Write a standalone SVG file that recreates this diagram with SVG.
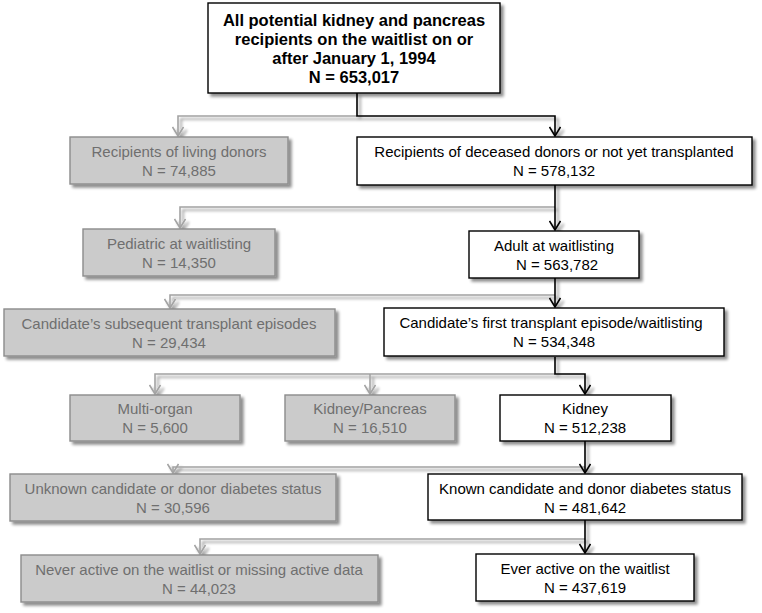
<svg xmlns="http://www.w3.org/2000/svg" width="762" height="613" viewBox="0 0 762 613">
<style>
text{font-family:"Liberation Sans",Arial,sans-serif;font-size:15px;text-anchor:middle}
.b rect{fill:#fff;stroke:#000;stroke-width:1.4}
.b text{fill:#000}
.g rect{fill:#cbcbcb;stroke:#8c8c8c;stroke-width:1.4}
.g text{fill:#6f6f6f}
.t text{font-weight:bold;font-size:16.5px}
.ck{fill:none;stroke:#000;stroke-width:1.6}
.cg{fill:none;stroke:#a3a3a3;stroke-width:1.6}
</style>
<defs>
<filter id="sh" x="-10%" y="-10%" width="130%" height="140%">
<feGaussianBlur in="SourceAlpha" stdDeviation="1.5"/>
<feOffset dx="3" dy="3" result="o"/>
<feComponentTransfer><feFuncA type="linear" slope="0.45"/></feComponentTransfer>
<feMerge><feMergeNode/><feMergeNode in="SourceGraphic"/></feMerge>
</filter>
<marker id="ak" markerWidth="12" markerHeight="12" refX="10" refY="6" orient="auto" markerUnits="userSpaceOnUse">
<path d="M1,0.5 L10,6 L1,11.5" fill="none" stroke="#000" stroke-width="1.6"/>
</marker>
<marker id="ag" markerWidth="12" markerHeight="12" refX="10" refY="6" orient="auto" markerUnits="userSpaceOnUse">
<path d="M1,0.5 L10,6 L1,11.5" fill="none" stroke="#a3a3a3" stroke-width="1.6"/>
</marker>
</defs>

<g id="connectors" filter="url(#sh)">
<path class="cg" d="M357,116 H178 V136" marker-end="url(#ag)"/>
<path class="ck" d="M357,93 V116 H555 V136" marker-end="url(#ak)"/>
<path class="cg" d="M555,207 H180 V228" marker-end="url(#ag)"/>
<path class="ck" d="M555,185 V230" marker-end="url(#ak)"/>
<path class="cg" d="M555,295 H170 V308" marker-end="url(#ag)"/>
<path class="ck" d="M555,278 V307" marker-end="url(#ak)"/>
<path class="cg" d="M555,374 H155 V394" marker-end="url(#ag)"/>
<path class="cg" d="M370,374 V394" marker-end="url(#ag)"/>
<path class="ck" d="M555,357 V374 H585 V394" marker-end="url(#ak)"/>
<path class="cg" d="M585,467 H173 V473" marker-end="url(#ag)"/>
<path class="ck" d="M585,441 V473" marker-end="url(#ak)"/>
<path class="cg" d="M585,539 H200 V554" marker-end="url(#ag)"/>
<path class="ck" d="M585,520 V553" marker-end="url(#ak)"/>
</g>

<g id="n0" class="b t">
<rect x="208" y="3" width="292" height="90" filter="url(#sh)"/>
<text x="354" y="26">All potential kidney and pancreas</text>
<text x="354" y="45">recipients on the waitlist on or</text>
<text x="354" y="64">after January 1, 1994</text>
<text x="354" y="83">N = 653,017</text>
</g>

<g id="n1" class="g">
<rect x="70" y="137" width="218" height="47" filter="url(#sh)"/>
<text x="179" y="157">Recipients of living donors</text>
<text x="179" y="176">N = 74,885</text>
</g>
<g id="n2" class="b">
<rect x="357" y="137" width="395" height="48" filter="url(#sh)"/>
<text x="554" y="157">Recipients of deceased donors or not yet transplanted</text>
<text x="554" y="176">N = 578,132</text>
</g>

<g id="n3" class="g">
<rect x="83" y="229" width="192" height="47" filter="url(#sh)"/>
<text x="179" y="249">Pediatric at waitlisting</text>
<text x="179" y="268">N = 14,350</text>
</g>
<g id="n4" class="b">
<rect x="469" y="231" width="170" height="47" filter="url(#sh)"/>
<text x="554" y="251">Adult at waitlisting</text>
<text x="557" y="270">N = 563,782</text>
</g>

<g id="n5" class="g">
<rect x="4" y="309" width="331" height="47" filter="url(#sh)"/>
<text x="169" y="329">Candidate’s subsequent transplant episodes</text>
<text x="169" y="348">N = 29,434</text>
</g>
<g id="n6" class="b">
<rect x="384" y="308" width="340" height="48" filter="url(#sh)"/>
<text x="551" y="328">Candidate’s first transplant episode/waitlisting</text>
<text x="554" y="347">N = 534,348</text>
</g>

<g id="n7" class="g">
<rect x="70" y="395" width="170" height="46" filter="url(#sh)"/>
<text x="155" y="414">Multi-organ</text>
<text x="155" y="433">N = 5,600</text>
</g>
<g id="n8" class="g">
<rect x="285" y="395" width="170" height="46" filter="url(#sh)"/>
<text x="370" y="414">Kidney/Pancreas</text>
<text x="370" y="433">N = 16,510</text>
</g>
<g id="n9" class="b">
<rect x="500" y="395" width="171" height="46" filter="url(#sh)"/>
<text x="585" y="414">Kidney</text>
<text x="585" y="433">N = 512,238</text>
</g>

<g id="n10" class="g">
<rect x="10" y="474" width="326" height="47" filter="url(#sh)"/>
<text x="173" y="494">Unknown candidate or donor diabetes status</text>
<text x="173" y="513">N = 30,596</text>
</g>
<g id="n11" class="b">
<rect x="428" y="474" width="314" height="46" filter="url(#sh)"/>
<text x="585" y="494">Known candidate and donor diabetes status</text>
<text x="585" y="513">N = 481,642</text>
</g>

<g id="n12" class="g">
<rect x="21" y="555" width="357" height="47" filter="url(#sh)"/>
<text x="199" y="575">Never active on the waitlist or missing active data</text>
<text x="199" y="594">N = 44,023</text>
</g>
<g id="n13" class="b">
<rect x="476" y="554" width="218" height="47" filter="url(#sh)"/>
<text x="585" y="574">Ever active on the waitlist</text>
<text x="585" y="593">N = 437,619</text>
</g>
</svg>
